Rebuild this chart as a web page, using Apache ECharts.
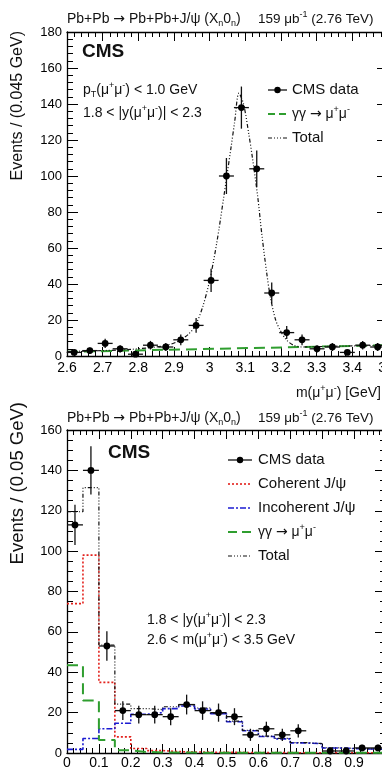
<!DOCTYPE html>
<html>
<head>
<meta charset="utf-8">
<script src="https://cdn.jsdelivr.net/npm/echarts@6/dist/echarts.min.js"></script>
<style>
  html, body { margin: 0; padding: 0; background: #fff; }
  #chart { width: 382px; height: 772px; }
</style>
</head>
<body>
<div id="chart"></div>
<script>
const chart = echarts.init(document.getElementById('chart'));
const FONT = '"Liberation Sans", Arial, Helvetica, sans-serif';

// ---- top panel: dimuon mass, pT < 1 GeV ----
const massCenters = [2.620, 2.664, 2.707, 2.749, 2.792, 2.834, 2.877, 2.919, 2.962, 3.004, 3.047,
  3.089, 3.132, 3.174, 3.216, 3.259, 3.301, 3.344, 3.386, 3.429, 3.471];
const massCounts = [2, 3, 7, 4, 1, 6, 5, 9, 17, 42, 100, 138, 104, 35, 13, 9, 4, 5, 2, 6, 5];
const massErrors = [1.4, 1.7, 2.6, 2, 1, 2.4, 2.2, 3, 4.1, 6.5, 10, 11.7, 10.2, 5.9, 3.6, 3, 2, 2.2, 1.4, 2.4, 2.2];
const massHalfBin = 0.021;

const massTotalX = [2.60, 2.70, 2.78, 2.84, 2.88, 2.91, 2.94, 2.96, 2.98, 3.00, 3.02, 3.04, 3.06, 3.07,
  3.082, 3.095, 3.11, 3.12, 3.135, 3.146, 3.16, 3.17, 3.185, 3.20, 3.215, 3.235, 3.26, 3.30, 3.40, 3.50];
const massTotalY = [2.5, 3.0, 3.7, 4.8, 6.0, 8.0, 12, 17, 27, 42, 63, 89, 116, 130,
  146, 140, 123, 110, 88, 68, 46, 33, 20, 13.5, 9, 6, 5, 5.2, 5.6, 6.0];
const massGGX = [2.6, 3.5];
const massGGY = [2.3, 6.0];

// ---- bottom panel: dimuon pT ----
const ptCenters = [0.025, 0.075, 0.125, 0.175, 0.225, 0.275, 0.325, 0.375, 0.425, 0.475,
  0.525, 0.575, 0.625, 0.675, 0.725, 0.825, 0.875, 0.925, 0.975];
const ptCounts = [113, 140, 53, 21, 19, 19, 18, 24, 21, 20, 18, 9, 12, 9, 11, 1, 1, 2.5, 2.5];
const ptErrors = [10, 12, 7.3, 4.6, 4.4, 4.4, 4.2, 4.9, 4.6, 4.5, 4.2, 3, 3.5, 3, 3.3, 1, 1, 1.6, 1.6];
const ptHalfBin = 0.025;

const ptEdges = [0, 0.05, 0.1, 0.15, 0.2, 0.25, 0.3, 0.35, 0.4, 0.45, 0.5,
  0.55, 0.6, 0.65, 0.7, 0.75, 0.8, 0.85, 0.9, 0.95, 1.0];
const coherent = [74, 98, 35, 8, 2.2, 1.2, 0.7, 0.5, 0.4, 0.3, 0.3, 0.2, 0.2, 0.2, 0.1, 0.1, 0.1, 0.1, 0.1, 0.1];
const incoherent = [1.8, 7.2, 12, 14.7, 19.2, 20, 22, 23.3, 21.8, 19.5, 15.5, 11, 8.2, 7, 5, 4.6, 2.5, 2.2, 2, 1.8];
const gammaGamma = [43.5, 26, 6.5, 1.4, 0.5, 0.3, 0.2, 0.2, 0.1, 0.1, 0.1, 0.1, 0.1, 0.1, 0.1, 0.1, 0.1, 0.1, 0.1, 0.1];
const ptTotal = [119.5, 131.5, 53.5, 24.2, 22, 21.5, 22.9, 24, 22.3, 19.8, 15.8, 11.2, 8.4, 7.2, 5.1, 4.7, 2.6, 2.3, 2.1, 1.9];

// axis ranges: major and minor tick steps
const massTicks = { min: 2.6, max: 3.5, interval: 0.1, minor: 0.02 };
const massYTicks = { min: 0, max: 180, interval: 20, minor: 4 };
const ptTicks = { min: 0, max: 1.0, interval: 0.1, minor: 0.02 };
const ptYTicks = { min: 0, max: 160, interval: 20, minor: 5 };

const GREEN = '#2f9e2f';
const RED = '#e3211c';
const BLUE = '#1c1cd2';
const TOTAL_DASH = [4, 2, 1, 2, 1, 2, 1, 2];

const zip = (xs, ys) => xs.map((x, i) => [x, ys[i]]);
const stepData = (edges, vals) => vals.map((v, i) => [edges[i], v]).concat([[edges[edges.length - 1], vals[vals.length - 1]]]);

// ROOT-style frame: labelled axis + mirrored axis, each with a separate minor-tick axis (ticks inside)
function axisSet(grid, ticks, sides, majorLen, minorLen, labelStyle) {
  const base = {
    type: 'value', gridIndex: grid, min: ticks.min, max: ticks.max,
    splitLine: { show: false }, axisLabel: { show: false }
  };
  const out = [];
  sides.forEach((side, k) => {
    out.push({
      ...base, position: side, interval: ticks.interval,
      axisLine: { show: true, onZero: false, lineStyle: { color: '#000', width: 1.3 } },
      axisTick: { show: true, inside: true, length: majorLen, lineStyle: { color: '#000', width: 1 } },
      axisLabel: k === 0 ? labelStyle : { show: false }
    });
  });
  sides.forEach((side) => {
    out.push({
      ...base, position: side, interval: ticks.minor,
      axisLine: { show: false, onZero: false },
      axisTick: { show: true, inside: true, length: minorLen, lineStyle: { color: '#000', width: 1 } }
    });
  });
  return out;
}

const xLabel = (margin) => ({ show: true, color: '#000', fontSize: 14, fontFamily: FONT, margin });
const yLabel = { show: true, color: '#000', fontSize: 13, fontFamily: FONT, margin: 5 };

function errorBars(xi, yi, centers, counts, errs, halfBin) {
  return {
    type: 'custom', xAxisIndex: xi, yAxisIndex: yi, z: 10, silent: true,
    data: centers.map((x, i) => [x, counts[i], halfBin, errs[i]]),
    encode: { x: 0, y: 1 },
    renderItem: (params, api) => {
      const x = api.value(0), y = api.value(1), ex = api.value(2), ey = api.value(3);
      const c = api.coord([x, y]);
      const l = api.coord([x - ex, y]), r = api.coord([x + ex, y]);
      const t = api.coord([x, y + ey]), b = api.coord([x, Math.max(0, y - ey)]);
      return {
        type: 'group',
        children: [
          { type: 'line', shape: { x1: l[0], y1: c[1], x2: r[0], y2: c[1] }, style: { stroke: '#111', lineWidth: 1.3 } },
          { type: 'line', shape: { x1: c[0], y1: t[1], x2: c[0], y2: b[1] }, style: { stroke: '#111', lineWidth: 1.3 } },
          { type: 'circle', shape: { cx: c[0], cy: c[1], r: 3.4 }, style: { fill: '#000' } }
        ]
      };
    }
  };
}

function curve(xi, yi, data, color, width, dash, step, smooth) {
  return {
    type: 'line', xAxisIndex: xi, yAxisIndex: yi, data,
    symbol: 'none', silent: true, step: step || false, smooth: smooth || false,
    lineStyle: { color, width, type: dash }
  };
}

// ---- text helpers ----
const RICH = {
  n: { fontSize: 14, fontFamily: FONT, fill: '#111', lineHeight: 18, verticalAlign: 'middle' },
  s: { fontSize: 13.5, fontFamily: FONT, fill: '#111', lineHeight: 18, verticalAlign: 'middle' },
  arr: { fontSize: 14, fontFamily: '"DejaVu Sans"', fill: '#111', verticalAlign: 'middle' },
  sup: { fontSize: 9, fontFamily: FONT, fill: '#111', verticalAlign: 'top' },
  sub: { fontSize: 9, fontFamily: FONT, fill: '#111', verticalAlign: 'bottom' }
};
function richText(x, y, text, align) {
  return { type: 'text', x, y, style: { text, rich: RICH, align: align || 'left', verticalAlign: 'middle' } };
}
function plainText(x, y, text, size, opts) {
  return {
    type: 'text', x, y, rotation: (opts && opts.rotation) || 0,
    style: {
      text, fill: '#111', font: `${(opts && opts.weight) || 'normal'} ${size}px ${FONT}`,
      align: (opts && opts.align) || 'left', verticalAlign: 'middle'
    }
  };
}
function legLine(x1, x2, y, color, width, dash) {
  return { type: 'line', shape: { x1, y1: y, x2, y2: y }, style: { stroke: color, lineWidth: width, lineDash: dash } };
}
function legData(x1, x2, y) {
  return [
    legLine(x1, x2, y, '#111', 1.3, null),
    { type: 'circle', shape: { cx: (x1 + x2) / 2, cy: y, r: 3.2 }, style: { fill: '#000' } }
  ];
}

const MUMU = '{n|γγ }{arr|→}{n| μ}{sup|+}{n|μ}{sup|-}';
const HEADER = '{n|Pb+Pb }{arr|→}{n| Pb+Pb+J/ψ (X}{sub|n}{n|0}{sub|n}{n|)}';
const LUMI = '{s|159 μb}{sup|-1}{s| (2.76 TeV)}';

const graphics = [
  // top panel
  richText(67, 19, HEADER),
  richText(258, 19, LUMI),
  plainText(82, 52, 'CMS', 19, { weight: 'bold' }),
  richText(83, 90, '{n|p}{sub|T}{n|(μ}{sup|+}{n|μ}{sup|-}{n|) < 1.0 GeV}'),
  richText(83, 113, '{n|1.8 < |y(μ}{sup|+}{n|μ}{sup|-}{n|)| < 2.3}'),
  ...legData(268, 287, 90),
  plainText(292, 90, 'CMS data', 15),
  legLine(268, 287, 114, GREEN, 2, [7, 4]),
  richText(292, 114, MUMU),
  legLine(268, 287, 138, '#111', 1.2, TOTAL_DASH),
  plainText(292, 138, 'Total', 15),
  plainText(18, 31, 'Events / (0.045 GeV)', 16, { align: 'right', rotation: Math.PI / 2 }),
  richText(381, 393, '{n|m(μ}{sup|+}{n|μ}{sup|-}{n|) [GeV]}', 'right'),
  // bottom panel
  richText(67, 418, HEADER),
  richText(258, 418, LUMI),
  plainText(108, 453, 'CMS', 19, { weight: 'bold' }),
  ...legData(228, 252, 460),
  plainText(258, 460, 'CMS data', 15),
  legLine(228, 252, 484, RED, 1.6, [2, 2]),
  plainText(258, 484, 'Coherent J/ψ', 15),
  legLine(228, 252, 508, BLUE, 1.6, [6, 2, 2, 2]),
  plainText(258, 508, 'Incoherent J/ψ', 15),
  legLine(228, 252, 532, GREEN, 2, [9, 5]),
  richText(258, 532, MUMU),
  legLine(228, 252, 556, '#111', 1.2, TOTAL_DASH),
  plainText(258, 556, 'Total', 15),
  richText(147, 620, '{n|1.8 < |y(μ}{sup|+}{n|μ}{sup|-}{n|)| < 2.3}'),
  richText(147, 640, '{n|2.6 < m(μ}{sup|+}{n|μ}{sup|-}{n|) < 3.5 GeV}'),
  plainText(18, 402, 'Events / (0.05 GeV)', 18.5, { align: 'right', rotation: Math.PI / 2 })
];

// axis indices: grid 0 -> x 0..3, y 0..3 ; grid 1 -> x 4..7, y 4..7
const xAxes = [
  ...axisSet(0, massTicks, ['bottom', 'top'], 9, 5, xLabel(5)),
  ...axisSet(1, ptTicks, ['bottom', 'top'], 9, 5, xLabel(3))
];
const yAxes = [
  ...axisSet(0, massYTicks, ['left', 'right'], 11, 6, yLabel),
  ...axisSet(1, ptYTicks, ['left', 'right'], 11, 6, yLabel)
];

chart.setOption({
  animation: false,
  backgroundColor: '#fff',
  grid: [
    { left: 67, right: -6, top: 32, height: 324, outerBoundsMode: 'none', containLabel: false },
    { left: 67, right: -4, top: 430, height: 323, outerBoundsMode: 'none', containLabel: false }
  ],
  xAxis: xAxes,
  yAxis: yAxes,
  series: [
    curve(0, 0, zip(massGGX, massGGY), GREEN, 2, [11, 6]),
    curve(0, 0, zip(massTotalX, massTotalY), '#111', 1.2, TOTAL_DASH, false, 0.3),
    errorBars(0, 0, massCenters, massCounts, massErrors, massHalfBin),

    curve(4, 4, stepData(ptEdges, coherent), RED, 1.6, [2, 2], 'end'),
    curve(4, 4, stepData(ptEdges, incoherent), BLUE, 1.6, [6, 2, 2, 2], 'end'),
    curve(4, 4, stepData(ptEdges, gammaGamma), GREEN, 2, [11, 6], 'end'),
    curve(4, 4, stepData(ptEdges, ptTotal), '#111', 1.2, TOTAL_DASH, 'end'),
    errorBars(4, 4, ptCenters, ptCounts, ptErrors, ptHalfBin)
  ],
  graphic: graphics
});
</script>
</body>
</html>
